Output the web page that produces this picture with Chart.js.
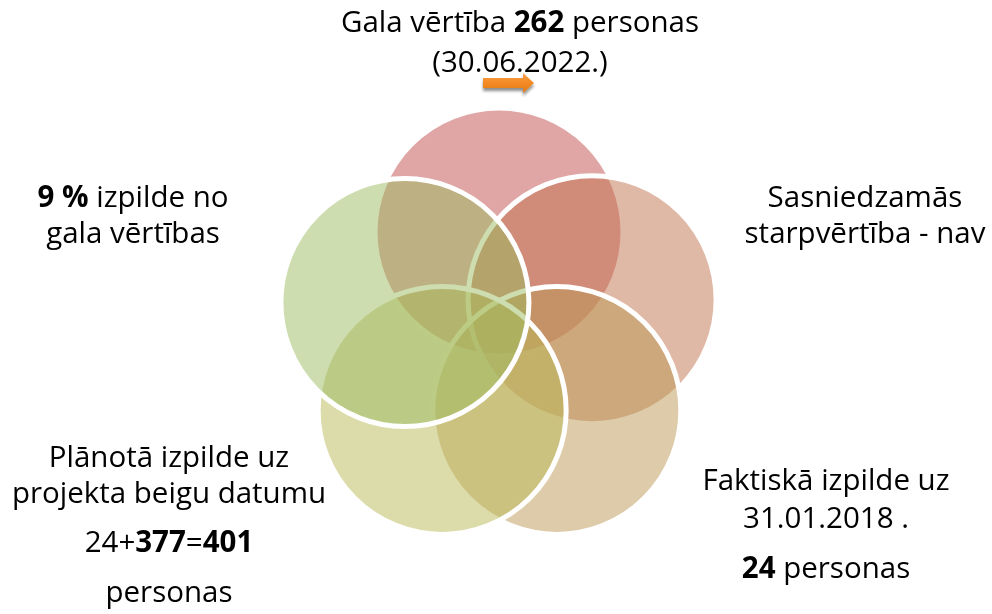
<!DOCTYPE html>
<html>
<head>
<meta charset="utf-8">
<script src="https://cdn.jsdelivr.net/npm/chart.js@4"></script>
<style>
  html, body { margin: 0; padding: 0; background: #ffffff; }
  #wrap { position: relative; width: 992px; height: 614px; overflow: hidden; }
  #chart { position: absolute; left: 0; top: 0; }
  #labels { position: absolute; left: 0; top: 0; pointer-events: none; }
  #labels text { font-family: "Open Sans", Lato, sans-serif; font-size: 29.5px; fill: #000; }
  #labels tspan.b { font-weight: bold; }
</style>
</head>
<body>
<div id="wrap">
  <canvas id="chart" width="992" height="614"></canvas>
  <svg id="labels" width="992" height="614" xmlns="http://www.w3.org/2000/svg"></svg>
</div>
<script>
// ---- data ----
const categories = ["Gala vērtība", "Sasniedzamā starpvērtība", "Faktiskā izpilde", "Plānotā izpilde", "Izpilde no gala vērtības"];
// circle centres in pentagon units (centre of the cycle = 0,0)
const circleX = [0.00, 0.95, 0.59, -0.58, -0.96];
const circleY = [1.01, 0.32, -0.81, -0.81, 0.29];
const circleColors = ["rgba(193,77,77,0.5)", "rgba(193,115,77,0.5)", "rgba(187,151,83,0.5)", "rgba(185,185,87,0.5)", "rgba(155,187,95,0.5)"];

// text lines (bold parts in <b>)
const topLines    = ["Gala vērtība <b>262</b> personas", "(30.06.2022.)"];
const rightLines  = ["Sasniedzamās", "starpvērtība - nav"];
const leftLines   = ["<b>9 %</b> izpilde no", "gala vērtības"];
const brLines     = ["Faktiskā izpilde uz", "31.01.2018 .", "<b>24</b> personas"];
const blLines     = ["Plānotā izpilde uz", "projekta beigu datumu", "24+<b>377</b>=<b>401</b>", "personas"];

// ---- chart ----
const unitPx = 98;               // pixels per pentagon unit
const cx = 499, cy = 331;        // where the pentagon centre sits on the page
const points = categories.map((c, i) => ({ x: circleX[i], y: circleY[i], r: 124 }));

const chart = new Chart(document.getElementById('chart'), {
  type: 'bubble',
  data: {
    labels: categories,
    datasets: [{
      data: points,
      backgroundColor: circleColors,
      borderColor: '#ffffff',
      borderWidth: 5,
      hoverBorderWidth: 5,
      clip: false
    }]
  },
  options: {
    responsive: false,
    animation: false,
    events: [],
    layout: { padding: 0 },
    plugins: { legend: { display: false }, tooltip: { enabled: false } },
    scales: {
      x: { type: 'linear', display: false, min: -5, max: 5 },
      y: { type: 'linear', display: false, min: -3, max: 3 }
    }
  }
});
// fit the scale ranges to the real chart area so one unit = unitPx
(function () {
  const a = chart.chartArea;
  chart.options.scales.x.min = -(cx - a.left) / unitPx;
  chart.options.scales.x.max = (a.right - cx) / unitPx;
  chart.options.scales.y.max = (cy - a.top) / unitPx;
  chart.options.scales.y.min = -(a.bottom - cy) / unitPx;
  chart.update('none');
})();

// ---- labels (real text, SVG) ----
const svgNS = "http://www.w3.org/2000/svg";
const svg = document.getElementById('labels');
function addLines(x, ys, lines) {
  lines.forEach((html, i) => {
    const t = document.createElementNS(svgNS, 'text');
    t.setAttribute('x', x);
    t.setAttribute('y', ys[i]);
    t.setAttribute('text-anchor', 'middle');
    html.split(/(<b>.*?<\/b>)/).forEach(p => {
      if (!p) return;
      const s = document.createElementNS(svgNS, 'tspan');
      if (p.startsWith('<b>')) { s.setAttribute('class', 'b'); s.textContent = p.slice(3, -4); }
      else s.textContent = p;
      t.appendChild(s);
    });
    svg.appendChild(t);
  });
}
addLines(520, [32, 72], topLines);
addLines(865, [207, 243], rightLines);
addLines(133, [207, 243], leftLines);
addLines(826, [490, 528, 578], brLines);
addLines(169, [467, 503, 552, 602], blLines);

// orange arrow
const defs = document.createElementNS(svgNS, 'defs');
defs.innerHTML = '<linearGradient id="og" x1="0" y1="0" x2="0" y2="1"><stop offset="0" stop-color="#f9a050"/><stop offset="0.5" stop-color="#f38a22"/><stop offset="1" stop-color="#e07a18"/></linearGradient>' +
  '<filter id="sh" x="-20%" y="-50%" width="140%" height="220%"><feGaussianBlur in="SourceAlpha" stdDeviation="1.6"/><feOffset dx="0" dy="3" result="b"/><feComponentTransfer><feFuncA type="linear" slope="0.45"/></feComponentTransfer><feMerge><feMergeNode/><feMergeNode in="SourceGraphic"/></feMerge></filter>';
svg.appendChild(defs);
const arrow = document.createElementNS(svgNS, 'path');
arrow.setAttribute('d', 'M483,78 L523,78 L523,73 L534,83 L523,93 L523,88 L483,88 Z');
arrow.setAttribute('fill', 'url(#og)');
arrow.setAttribute('filter', 'url(#sh)');
svg.appendChild(arrow);
</script>
</body>
</html>
